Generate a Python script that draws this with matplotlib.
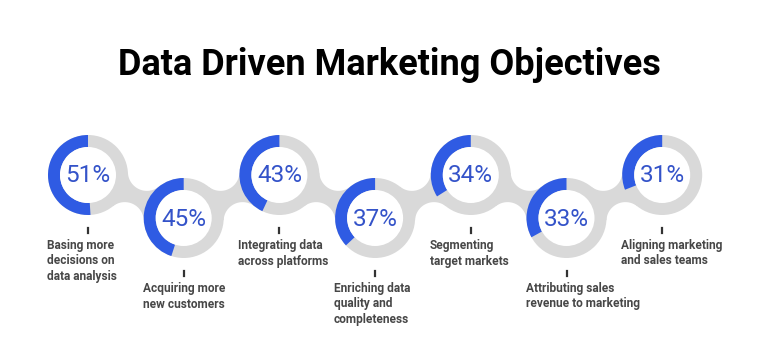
import numpy as np
import matplotlib
matplotlib.use("Agg")
import matplotlib.pyplot as plt
from matplotlib.patches import Wedge, Circle, Polygon

title = "Data Driven Marketing Objectives"
labels = [
    "Basing more\ndecisions on\ndata analysis",
    "Acquiring more\nnew customers",
    "Integrating data\nacross platforms",
    "Enriching data\nquality and\ncompleteness",
    "Segmenting\ntarget markets",
    "Attributing sales\nrevenue to marketing",
    "Aligning marketing\nand sales teams",
]
values = [51, 45, 43, 37, 34, 33, 31]

BLUE = "#2f5be3"
TXT_BLUE = "#3453c9"
GRAY = "#d9d9d9"
LABEL = "#474747"

W, H = 776, 359
fig = plt.figure(figsize=(W / 100, H / 100), dpi=100)
ax = fig.add_axes([0, 0, 1, 1])
ax.set_xlim(0, W)
ax.set_ylim(H, 0)
ax.set_aspect("equal")
ax.axis("off")

x0, dx = 88, 95.7
y_up, y_dn = 175, 218
R_out, R_in = 40, 28
n = len(values)
xs = [x0 + dx * i for i in range(n)]
ys = [y_up if i % 2 == 0 else y_dn for i in range(n)]

# filleted connectors between neighbouring rings
RF = 19.0  # fillet radius


def neck(c1, c2, R, rf):
    c1, c2 = np.array(c1, float), np.array(c2, float)
    d = c2 - c1
    D = np.linalg.norm(d)
    u = d / D
    nrm = np.array([-u[1], u[0]])
    mid = (c1 + c2) / 2
    h = np.sqrt((R + rf) ** 2 - (D / 2) ** 2)
    pts = [c1]
    for sgn, order in ((1, (c1, c2)), (-1, (c2, c1))):
        F = mid + sgn * h * nrm
        a, b = order
        va, vb = a - F, b - F
        aa, ab = np.arctan2(va[1], va[0]), np.arctan2(vb[1], vb[0])
        diff = (ab - aa + np.pi) % (2 * np.pi) - np.pi
        angs = aa + np.linspace(0, diff, 40)
        arc = F + rf * np.column_stack([np.cos(angs), np.sin(angs)])
        pts.extend(arc)
        pts.append(b)
    return np.array(pts)


for i in range(n - 1):
    poly = neck((xs[i], ys[i]), (xs[i + 1], ys[i + 1]), R_out, RF)
    ax.add_patch(Polygon(poly, closed=True, color=GRAY, lw=0, zorder=1))

for i, (x, y, v, lab) in enumerate(zip(xs, ys, values, labels)):
    ax.add_patch(Circle((x, y), R_out, color=GRAY, zorder=2, lw=0))
    th1 = 270 - v * 3.6
    ax.add_patch(Wedge((x, y), R_out, th1, 270, width=R_out - R_in,
                       color=BLUE, zorder=3, lw=0))
    ax.add_patch(Circle((x, y), R_in, color="white", zorder=4, lw=0))
    ax.text(x, y + 1, f"{v}%", ha="center", va="center", color=TXT_BLUE,
            fontsize=17.5, family="Roboto", zorder=5)
    ty = y + 53
    ax.plot([x, x], [ty, ty + 5], color="#333333", lw=1.6, zorder=5)
    ax.text(x - 41, ty + 11, lab, ha="left", va="top", color=LABEL,
            fontsize=8.6, family="Roboto", fontweight="bold",
            linespacing=1.25, zorder=5)

ax.text(W / 2 + 1, 75, title, ha="center", va="baseline", color="black",
        fontsize=26, family="Roboto", fontweight="bold")

fig.savefig("out.png", dpi=100, facecolor="white")
